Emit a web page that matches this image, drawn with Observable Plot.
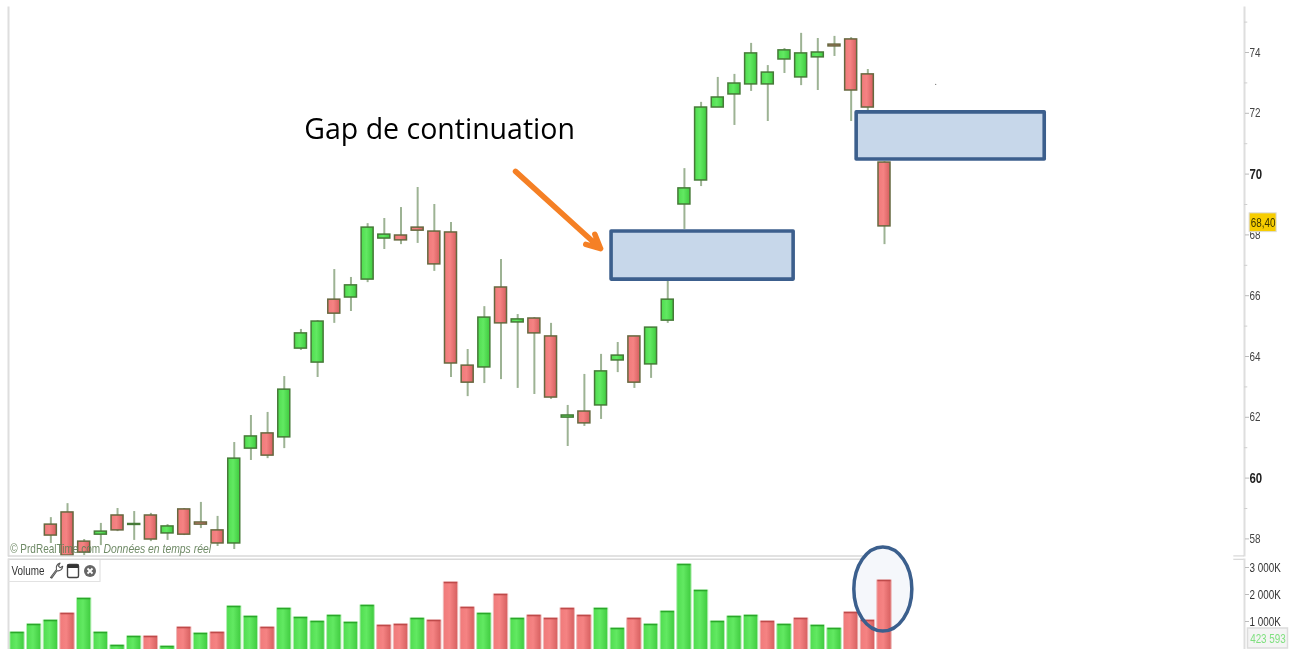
<!DOCTYPE html>
<html>
<head>
<meta charset="utf-8">
<script src="https://cdn.jsdelivr.net/npm/d3@7"></script>
<script src="https://cdn.jsdelivr.net/npm/@observablehq/plot@0.6"></script>
<style>
html,body{margin:0;padding:0;background:#fff}
#chart{position:relative;width:1293px;height:649px;overflow:hidden;background:#fff}
#chart svg{position:absolute;left:0;top:0;background:transparent;filter:blur(.4px)}
</style>
</head>
<body>
<div id="chart"></div>
<script>
// ---- price candles: first visible candle is session 2 ----
const firstCandle = 2;
const opens  = [58.47,58.87,57.91,58.14,58.77,58.46,58.77,58.18,58.97,58.54,58.28,57.85,60.97,61.47,61.34,64.26,63.80,65.87,65.94,66.53,67.88,67.98,68.24,68.11,68.08,63.70,63.64,66.27,65.12,65.25,64.66,61.99,62.19,62.39,63.87,64.66,63.74,65.18,69.00,69.79,72.19,72.62,72.95,72.95,73.77,73.18,73.84,74.26,74.43,73.28,70.38];
const closes = [58.11,57.45,57.55,58.24,58.28,58.49,57.98,58.41,58.14,58.47,57.85,60.64,61.37,60.74,62.91,64.76,65.15,65.41,66.34,68.24,68.01,67.82,68.14,67.03,63.77,63.14,65.28,65.09,65.22,64.76,62.65,62.06,61.80,63.51,64.03,63.14,64.95,65.87,69.53,72.19,72.52,72.98,73.97,73.34,74.07,73.97,74.00,74.20,72.75,72.19,68.28];
const highs  = [58.70,59.16,57.98,58.51,59.00,58.90,58.84,58.47,59.00,59.20,58.74,61.17,62.06,62.16,63.34,64.89,65.18,66.86,66.60,68.37,68.54,68.90,69.56,69.00,68.41,64.23,65.64,67.19,65.38,65.28,65.09,62.39,63.41,64.07,64.46,64.66,64.95,66.63,70.18,72.36,73.18,73.28,74.30,73.57,74.13,74.63,74.46,74.53,74.49,73.44,70.41];
const lows   = [57.85,57.45,57.45,57.78,58.24,57.95,57.91,57.95,58.11,58.34,57.75,57.65,60.58,60.64,60.97,64.20,63.31,65.09,65.48,66.43,67.52,67.68,67.72,66.80,63.31,62.68,63.11,63.24,62.95,62.75,62.59,61.04,61.70,61.93,63.47,62.95,63.28,65.09,68.18,69.59,72.19,71.60,72.72,71.73,73.31,72.91,72.75,73.87,71.73,72.03,67.68];

// ---- volume pane (thousands of shares) ----
const volumes = [593,889,1037,1296,1852,593,111,444,444,74,778,556,593,1556,1185,778,1481,1148,1000,1222,963,1593,852,889,1111,1037,2444,1519,1296,2000,1111,1222,1111,1481,1222,1481,741,1111,889,1370,3111,2148,1000,1185,1222,1000,889,1111,852,741,1333,1037,2519];
const volumeDown = [0,0,0,1,0,0,0,0,1,0,1,0,1,0,0,1,0,0,0,0,0,0,1,1,0,1,1,1,0,1,0,1,1,1,1,0,0,1,0,0,0,0,0,0,0,1,0,1,0,0,1,1,1];

// ---- axes ----
const priceTicks = [74,72,68,66,64,62,58];
const priceTicksStrong = [70,60];
const priceTicksMinor = [75,73,71,69,67,65,63,61,59];
const volumeTicks = [3000,2000,1000];
const lastPrice = 68.40;
const lastPriceLabel = "68,40";
const lastVolumeLabel = "423 593";

// ---- annotations ----
const gapBoxes = [
  {x1:35.63,x2:46.55,y1:66.53,y2:68.11},
  {x1:50.33,x2:61.61,y1:70.48,y2:72.03}
];
const gapLabel = "Gap de continuation";
const arrowSpec = [{x1:29.87,y1:70.09,x2:34.97,y2:67.55}];
const volumeCircle = {x:51.93,v:2185,rx:1.74,rv:1556};

const candles = opens.map((o,k)=>({i:k+firstCandle,open:o,close:closes[k],high:highs[k],low:lows[k]}));
const bars = volumes.map((v,i)=>({i,v,down:!!volumeDown[i]}));

const UI_FONT = "'Liberation Sans',Arial,sans-serif";
const X = {domain:[0,52],range:[17,884],axis:null};
const AX = 73.59;            // right-hand axis position, in session units
const AX_LEFT = -0.54;

function defs(){
  const s = d3.create("svg:defs");
  const g = (id,a,b,c)=>{
    const l=s.append("linearGradient").attr("id",id);
    l.append("stop").attr("offset","0%").attr("stop-color",a);
    l.append("stop").attr("offset","45%").attr("stop-color",b);
    l.append("stop").attr("offset","100%").attr("stop-color",c);
  };
  g("gUp","#4fdc4f","#62e962","#3fcb3f");
  g("gDown","#f07a7a","#f58383","#d65f5f");
  return s.node();
}

const isDown = d=>d.open>d.close;
const pricePlot = Plot.plot({
  width:1293,height:649,marginTop:7,marginBottom:94,marginLeft:8,marginRight:49,
  x:X,
  y:{domain:[58,74],range:[538.4,52],axis:null},
  style:{background:"transparent"},
  marks:[
    defs,
    Plot.frame({anchor:"left",stroke:"#dedede",strokeWidth:2}),
    Plot.frame({anchor:"right",stroke:"#dedede",strokeWidth:2}),
    Plot.ruleX(candles,{x:"i",y1:"low",y2:"high",stroke:"#9db394",strokeWidth:2}),
    Plot.rect(candles,{
      x1:d=>d.i-0.36,x2:d=>d.i+0.36,
      y1:d=>Math.min(d.open,d.close),y2:d=>Math.max(d.open,d.close),
      fill:d=>isDown(d)?"url(#gDown)":"url(#gUp)",
      stroke:d=>isDown(d)?"#66683f":"#467a38",strokeWidth:1.5
    }),
    Plot.rect(gapBoxes,{x1:"x1",x2:"x2",y1:"y1",y2:"y2",fill:"#c7d7ea",stroke:"#3c5f8d",strokeWidth:3.6,strokeLinejoin:"round"}),
    Plot.arrow(arrowSpec,{x1:"x1",y1:"y1",x2:"x2",y2:"y2",bend:0,stroke:"#f58025",strokeWidth:5.5,headLength:4.2,headAngle:52}),
    Plot.text([gapLabel],{x:[17.2],y:[71.47],text:d=>d,textAnchor:"start",fontSize:28.5,fontFamily:"'Open Sans',sans-serif",fill:"#000",className:"wide"}),
    Plot.dot([0],{x:[55.07],y:[72.95],r:0.6,fill:"#777",stroke:null}),
    // separators between the panes
    Plot.ruleY([57.44,57.33],{x1:AX_LEFT,x2:52.5,stroke:"#d9d9d9",strokeWidth:1.5}),
    Plot.ruleY([57.44,57.33],{x1:72.95,x2:AX,stroke:"#cfcfcf",strokeWidth:1}),
    // price axis
    Plot.ruleY(priceTicksMinor,{x1:AX,x2:AX+0.2,stroke:"#cfcfcf",strokeWidth:1}),
    Plot.axisY(priceTicks,{anchor:"right",tickSize:4,tickPadding:1,stroke:"#bbb",fill:"#444",fontSize:13,fontFamily:UI_FONT,label:null,tickFormat:d=>d}),
    Plot.axisY(priceTicksStrong,{anchor:"right",tickSize:4,tickPadding:1,stroke:"#bbb",fill:"#222",fontSize:15,fontWeight:"bold",fontFamily:UI_FONT,label:null,tickFormat:d=>d}),
    // last price badge
    Plot.rect([lastPrice],{x1:73.9,x2:75.52,y1:d=>d-0.31,y2:d=>d+0.31,fill:"#f7cd00",stroke:"#dcdcdc",strokeWidth:1}),
    Plot.text([lastPrice],{x:74.71,y:d=>d,text:()=>lastPriceLabel,fill:"#3b3500",fontSize:13,fontFamily:UI_FONT}),
    // watermark
    Plot.text(["© PrdRealTime.com"],{x:[-0.44],y:[57.68],text:d=>d,textAnchor:"start",fontSize:13,fontFamily:UI_FONT,fill:"#5f7d55",fillOpacity:.9,className:"mark-left"}),
    Plot.text(["Données en temps réel"],{x:[5.16],y:[57.68],text:d=>d,textAnchor:"start",fontSize:13,fontStyle:"italic",fontFamily:UI_FONT,fill:"#5f7d55",fillOpacity:.9,className:"mark-right"})
  ]
});

function ellipseMark(fill,stroke){
  return (index,{x,y})=>{
    const c=volumeCircle;
    return d3.create("svg:ellipse")
      .attr("cx",x(c.x)).attr("cy",y(c.v))
      .attr("rx",Math.abs(x(c.x+c.rx)-x(c.x))).attr("ry",Math.abs(y(c.v+c.rv)-y(c.v)))
      .attr("fill",fill).attr("stroke",stroke).attr("stroke-width",stroke==="none"?0:3.5).node();
  };
}
function legendChrome(){
  const g=d3.create("svg:g");
  g.append("path").attr("d","M8 581.5H100V560").attr("fill","none").attr("stroke","#e2e2e2").attr("stroke-width",1.2);
  // wrench
  g.append("path").attr("d","M50.5 577.5l6-8c-.8-2.6.4-5.6 3.6-6.4l-1.6 3 1.6 1.6 2.6-1.4c-.2 3.2-2.8 5-5.6 4.4l-5.4 7.4z")
    .attr("fill","#fff").attr("stroke","#555").attr("stroke-width",1.1).attr("stroke-linejoin","round");
  // window
  g.append("rect").attr("x",67.5).attr("y",564.5).attr("width",11).attr("height",13).attr("rx",1.5).attr("fill","#fff").attr("stroke","#444").attr("stroke-width",1.4);
  g.append("rect").attr("x",67.5).attr("y",564.5).attr("width",11).attr("height",3.5).attr("fill","#333");
  // close
  g.append("circle").attr("cx",90).attr("cy",571).attr("r",6).attr("fill","#666");
  g.append("path").attr("d","M87.5 568.5l5 5m0-5l-5 5").attr("stroke","#fff").attr("stroke-width",1.8);
  return g.node();
}

const volumePlot = Plot.plot({
  width:1293,height:649,marginTop:559,marginBottom:0,marginLeft:8,marginRight:49,
  x:X,
  y:{domain:[0,3000],range:[648,567],axis:null},
  style:{background:"transparent"},
  marks:[
    Plot.frame({anchor:"left",stroke:"#dedede",strokeWidth:2}),
    Plot.frame({anchor:"right",stroke:"#dedede",strokeWidth:2}),
    ellipseMark("#f5f7fb","none"),
    Plot.rect(bars,{x1:d=>d.i-0.43,x2:d=>d.i+0.43,y1:-100,y2:"v",
      fill:d=>d.down?"url(#gDown)":"url(#gUp)",stroke:d=>d.down?"#eeb9b9":"#b6eeb6",strokeWidth:1}),
    Plot.ruleY(bars,{y:"v",x1:d=>d.i-0.40,x2:d=>d.i+0.40,stroke:d=>d.down?"#bf4a4a":"#2aa82a",strokeWidth:1.6}),
    ellipseMark("none","#3b5f8d"),
    Plot.axisY(volumeTicks,{anchor:"right",tickSize:4,tickPadding:1,stroke:"#bbb",fill:"#333",fontSize:13,fontFamily:UI_FONT,label:null,tickFormat:d=>`${d/1000} 000K`}),
    legendChrome,
    Plot.text(["Volume"],{x:[-0.36],y:[2889],text:d=>d,textAnchor:"start",fontSize:13,fontFamily:UI_FONT,fill:"#333"}),
    // last volume badge
    Plot.rect([0],{x1:73.8,x2:76.2,y1:0,y2:741,fill:"#f4f4f4",stroke:"#dcdcdc",strokeWidth:1.5}),
    Plot.text([lastVolumeLabel],{x:[75],y:[370],text:d=>d,fill:"#7fe07f",fontSize:13,fontFamily:UI_FONT})
  ]
});

const root=document.getElementById("chart");
root.append(pricePlot,volumePlot);

// The trading platform's labels use a condensed face: squeeze the sans glyphs to match.
const NARROW_FACTOR = 0.76;
const factorFor = el => el.closest(".mark-right") ? 0.80 : el.closest(".mark-left") ? 0.77 : NARROW_FACTOR;
d3.select(root).selectAll("text").each(function(){
  if (this.closest(".wide") || this.classList.contains("wide")) return;
  const len=this.getComputedTextLength();
  if (len>0) this.setAttribute("textLength",(len*factorFor(this)).toFixed(1)), this.setAttribute("lengthAdjust","spacingAndGlyphs");
});
</script>
</body>
</html>
